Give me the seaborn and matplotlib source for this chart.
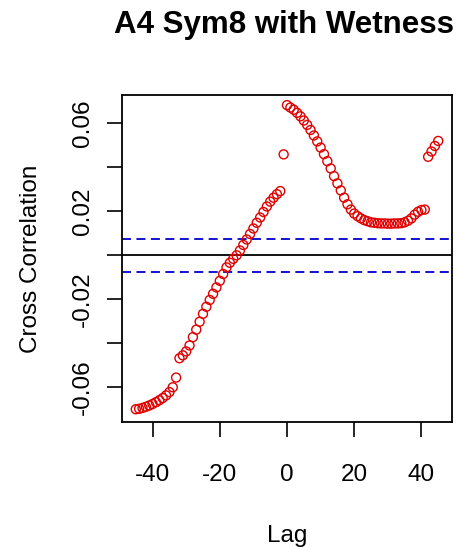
import numpy as np
import pandas as pd
import matplotlib
matplotlib.use("Agg")
import matplotlib.pyplot as plt
import seaborn as sns

title = "A4 Sym8 with Wetness"
x_label = "Lag"
y_label = "Cross Correlation"

lags = list(range(-45, 46))
ccf_left = [-0.0700, -0.0698, -0.0694, -0.0689, -0.0683, -0.0676, -0.0668,
            -0.0659, -0.0649, -0.0637, -0.0622, -0.0600, -0.0556]
ccf_mid = [-0.0468, -0.0455, -0.0437, -0.0410, -0.0372, -0.0338, -0.0302,
           -0.0266, -0.0234, -0.0203, -0.0175, -0.0146, -0.0116, -0.0085,
           -0.0055, -0.0034, -0.0016, 0.0000, 0.0022, 0.0047, 0.0072,
           0.0097, 0.0122, 0.0148, 0.0172, 0.0197, 0.0222, 0.0244, 0.0262,
           0.0278, 0.0292]
ccf_lag_m1 = [0.0459]
ccf_right = [0.0683, 0.0672, 0.0662, 0.0648, 0.0632, 0.0613, 0.0593, 0.0570,
             0.0545, 0.0518, 0.0490, 0.0460, 0.0428, 0.0395, 0.0360, 0.0327,
             0.0295, 0.0262, 0.0232, 0.0208, 0.0190, 0.0178, 0.0168, 0.0160,
             0.0155, 0.0150, 0.0148, 0.0146, 0.0145, 0.0145, 0.0144, 0.0144,
             0.0145, 0.0145, 0.0146, 0.0150, 0.0157, 0.0168, 0.0185, 0.0198,
             0.0206, 0.0208, 0.0448, 0.0472, 0.0497, 0.0520]
ccf_values = ccf_left + ccf_mid + ccf_lag_m1 + ccf_right
conf_bound = 0.0075

x_ticks = [-40, -20, 0, 20, 40]
x_tick_labels = ["-40", "-20", "0", "20", "40"]
y_ticks = [-0.06, -0.04, -0.02, 0.0, 0.02, 0.04, 0.06]
y_tick_labels = ["-0.06", "", "-0.02", "", "0.02", "", "0.06"]

df = pd.DataFrame({"lag": lags, "ccf": ccf_values})

sns.set_style("white")
plt.rcParams["font.family"] = ["Liberation Sans", "DejaVu Sans"]

fig = plt.figure(figsize=(4.60, 5.47), dpi=100)
ax = fig.add_axes([122 / 460, 1 - 422 / 547, 330 / 460, 327 / 547])

ax.axhline(0, color="black", lw=1.3, zorder=1)
ax.axhline(conf_bound, color="#0000CC", lw=1.3, ls=(0, (5, 3)), zorder=1)
ax.axhline(-conf_bound, color="#0000CC", lw=1.3, ls=(0, (5, 3)), zorder=1)

sns.scatterplot(data=df, x="lag", y="ccf", ax=ax, marker="o", s=42,
                facecolor="none", edgecolor="#E00000", linewidth=1.0,
                zorder=3, legend=False)

ax.set_xlim(-49.1, 49.1)
ax.set_ylim(-0.0758, 0.0729)
ax.set_xticks(x_ticks)
ax.set_xticklabels(x_tick_labels)
ax.set_yticks(y_ticks)
ax.set_yticklabels(y_tick_labels, rotation=90, va="center")

for s in ax.spines.values():
    s.set_visible(True)
    s.set_color("black")
    s.set_linewidth(1.3)

ax.tick_params(axis="both", which="both", direction="out", length=11,
               width=1.2, color="black", labelsize=17.5, labelcolor="black")
ax.tick_params(axis="x", pad=19, bottom=True)
ax.tick_params(axis="y", pad=9, left=True)

ax.set_xlabel(x_label, fontsize=17.5, labelpad=28, color="black")
ax.set_ylabel(y_label, fontsize=17.5, labelpad=22, color="black")

fig.text(284 / 460, 1 - 25 / 547, title, ha="center", va="center",
         fontsize=22.5, fontweight="bold", color="black")

fig.savefig("out.png", dpi=100, facecolor="white")
